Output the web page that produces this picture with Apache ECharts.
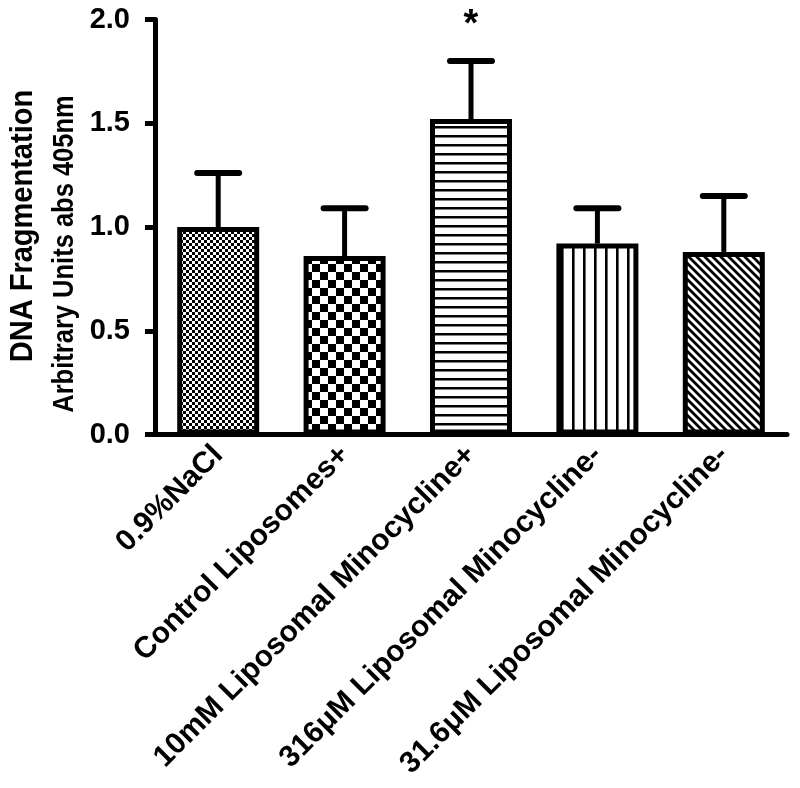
<!DOCTYPE html>
<html><head><meta charset="utf-8">
<script src="https://cdn.jsdelivr.net/npm/echarts@6/dist/echarts.min.js"></script>
<style>html,body{margin:0;padding:0;background:#fff}#c{width:800px;height:788px}</style>
</head><body><div id="c"></div>
<script>
// ---- data ----
const categories = ['0.9%NaCl', 'Control Liposomes+', '10mM Liposomal Minocycline+', '316μM Liposomal Minocycline-', '31.6μM Liposomal Minocycline-'];
const means = [1.00, 0.86, 1.52, 0.92, 0.88];
const errors = [0.26, 0.23, 0.28, 0.17, 0.27];
const marks = ['', '', '*', '', ''];
const yTickLabels = ['0.0', '0.5', '1.0', '1.5', '2.0'];
const yTitleLines = ['DNA Fragmentation', 'Arbitrary Units abs 405nm'];

// ---- fill patterns ----
function makeTile(w, h, draw) {
  const c = document.createElement('canvas');
  c.width = w; c.height = h;
  const g = c.getContext('2d');
  g.fillStyle = '#fff'; g.fillRect(0, 0, w, h);
  g.fillStyle = '#000'; g.strokeStyle = '#000';
  draw(g, w, h);
  return { image: c, repeat: 'repeat' };
}
const patterns = [
  makeTile(6, 6, g => { g.fillRect(0, 0, 3, 3); g.fillRect(3, 3, 3, 3); }),
  makeTile(16, 16, g => { g.fillRect(0, 0, 8, 8); g.fillRect(8, 8, 8, 8); }),
  makeTile(8, 9, g => { g.fillRect(0, 0, 8, 2.5); }),
  makeTile(11, 8, g => { g.fillRect(0, 0, 2.6, 8); }),
  makeTile(8, 8, g => {
    g.lineWidth = 2.8;
    g.beginPath();
    g.moveTo(-2, -2); g.lineTo(10, 10);
    g.moveTo(-10, -2); g.lineTo(2, 10);
    g.moveTo(6, -2); g.lineTo(18, 10);
    g.stroke();
  })
];

const FONT = 'Liberation Sans, Arial, Helvetica, sans-serif';
const chart = echarts.init(document.getElementById('c'), null, { renderer: 'canvas' });

const barData = means.map((v, i) => ({
  value: v,
  itemStyle: { color: patterns[i], borderColor: '#000', borderWidth: 5 }
}));
const errData = means.map((v, i) => [i, v, errors[i], marks[i]]);

chart.setOption({
  animation: false,
  backgroundColor: '#fff',
  grid: { left: 155, right: 13, top: 19.5, bottom: 353.5, containLabel: false, outerBoundsMode: 'none' },
  graphic: [
    { type: 'text', x: 24, y: 226, rotation: Math.PI / 2, scaleY: 1.06,
      style: { text: yTitleLines[0], align: 'center', verticalAlign: 'middle', fill: '#000', font: 'bold 29px ' + FONT } },
    { type: 'text', x: 65, y: 254, rotation: Math.PI / 2, scaleY: 1.18,
      style: { text: yTitleLines[1], align: 'center', verticalAlign: 'middle', fill: '#000', font: 'bold 25.5px ' + FONT } }
  ],
  xAxis: {
    type: 'category',
    data: categories,
    axisLine: { lineStyle: { color: '#000', width: 5 } },
    axisTick: { alignWithLabel: true, length: 12, lineStyle: { color: '#000', width: 4 } },
    axisLabel: { rotate: 45, margin: 16, color: '#000', fontFamily: FONT, fontWeight: 'bold', fontSize: 30, interval: 0 }
  },
  yAxis: {
    type: 'value',
    min: 0, max: 2, interval: 0.5,
    splitLine: { show: false },
    axisLine: { show: true, lineStyle: { color: '#000', width: 5 } },
    axisTick: { show: true, length: 10, lineStyle: { color: '#000', width: 5 } },
    axisLabel: {
      margin: 25, color: '#000', fontFamily: FONT, fontWeight: 'bold', fontSize: 29,
      formatter: (v) => yTickLabels[Math.round(v / 0.5)]
    }
  },
  series: [
    {
      type: 'bar',
      data: barData,
      barWidth: 82,
      z: 2
    },
    {
      type: 'custom',
      data: errData,
      z: 3,
      renderItem: function (params, api) {
        const i = api.value(0), m = api.value(1), e = api.value(2);
        const base = api.coord([i, m]);
        const top = api.coord([i, m + e]);
        const children = [
          { type: 'line', shape: { x1: base[0], y1: base[1], x2: top[0], y2: top[1] }, style: { stroke: '#000', lineWidth: 5 } },
          { type: 'line', shape: { x1: top[0] - 21, y1: top[1], x2: top[0] + 21, y2: top[1] }, style: { stroke: '#000', lineWidth: 6, lineCap: 'round' } }
        ];
        const mk = marks[params.dataIndex];
        if (mk) {
          children.push({ type: 'text', style: { text: mk, x: top[0], y: top[1] - 16, align: 'center', verticalAlign: 'bottom', fill: '#000', font: 'bold 38px ' + FONT } });
        }
        return { type: 'group', children: children };
      }
    }
  ]
});
</script>
</body></html>
